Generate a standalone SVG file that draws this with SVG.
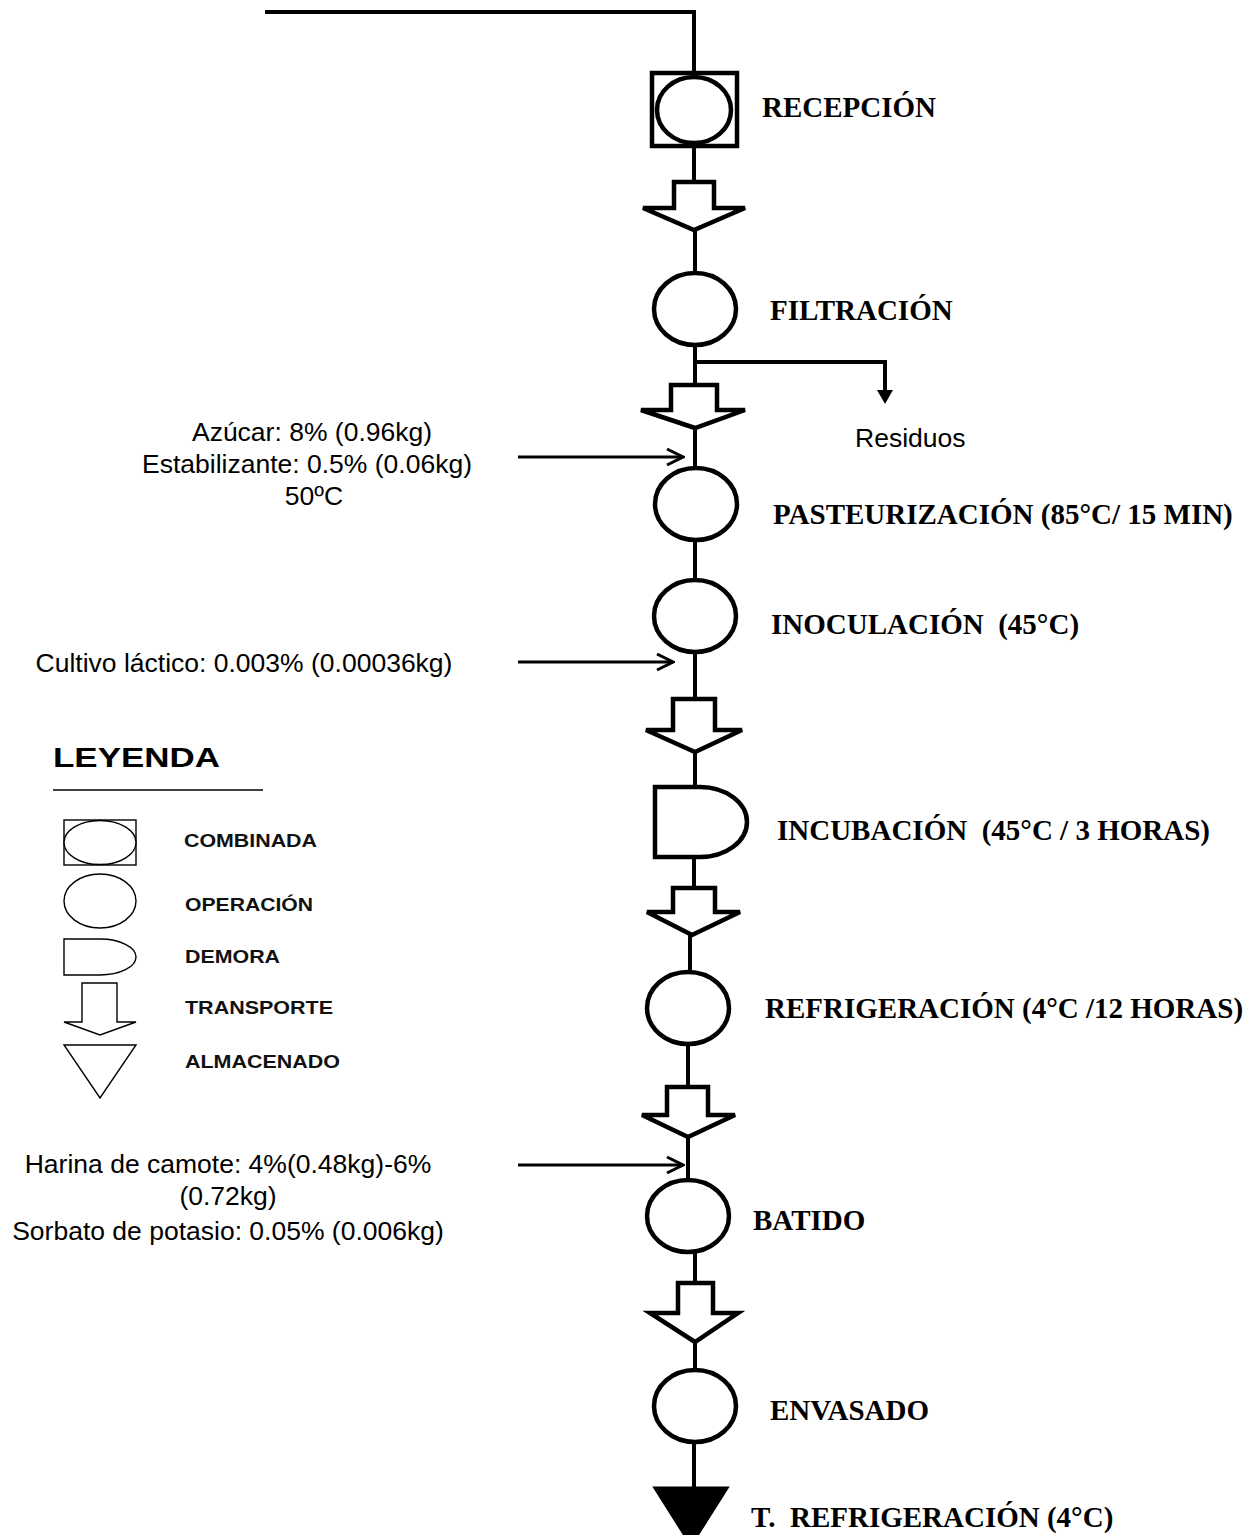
<svg xmlns="http://www.w3.org/2000/svg" width="1256" height="1535" viewBox="0 0 1256 1535">
<defs>
<style>
.sym{fill:#fff;stroke:#000;stroke-width:4.5;stroke-linejoin:miter}
.ln{fill:none;stroke:#000;stroke-width:4}
.lg{fill:#fff;stroke:#000;stroke-width:1.4}
.lbl{font-family:"Liberation Serif","Times New Roman",serif;font-weight:bold;font-size:29px;fill:#000}
.note{font-family:"Liberation Sans",Arial,sans-serif;font-size:26.5px;fill:#000}
.leg{font-family:"Liberation Sans",Arial,sans-serif;font-weight:bold;font-size:18px;fill:#111}
.in{fill:none;stroke:#000;stroke-width:3}
</style>
<marker id="open" viewBox="0 0 20 20" refX="18" refY="10" markerWidth="20" markerHeight="20" markerUnits="userSpaceOnUse" orient="auto">
<path d="M2,2 L18,10 L2,18" fill="none" stroke="#000" stroke-width="3"/>
</marker>
</defs>
<rect width="1256" height="1535" fill="#fff"/>

<g id="connectors">
<polyline class="ln" points="265,12 694,12 694,73"/>
<line class="ln" x1="694" y1="146" x2="694" y2="182"/>
<line class="ln" x1="695" y1="230" x2="695" y2="273"/>
<line class="ln" x1="695" y1="345" x2="695" y2="385"/>
<polyline class="ln" points="695,362 885,362 885,392"/>
<polygon points="877,390 893,390 885,404" fill="#000"/>
<line class="ln" x1="695" y1="428" x2="695" y2="468"/>
<line class="ln" x1="695" y1="540" x2="695" y2="580"/>
<line class="ln" x1="695" y1="652" x2="695" y2="699"/>
<line class="ln" x1="695" y1="752" x2="695" y2="787"/>
<line class="ln" x1="694" y1="857" x2="694" y2="888"/>
<line class="ln" x1="690" y1="935" x2="690" y2="972"/>
<line class="ln" x1="688" y1="1044" x2="688" y2="1087"/>
<line class="ln" x1="688" y1="1137" x2="688" y2="1180"/>
<line class="ln" x1="695" y1="1252" x2="695" y2="1283"/>
<line class="ln" x1="695" y1="1342" x2="695" y2="1370"/>
<line class="ln" x1="694" y1="1442" x2="694" y2="1488"/>
<line class="in" x1="518" y1="457" x2="683" y2="457" marker-end="url(#open)"/>
<line class="in" x1="518" y1="662" x2="673" y2="662" marker-end="url(#open)"/>
<line class="in" x1="518" y1="1165" x2="683" y2="1165" marker-end="url(#open)"/>
</g>

<g id="recepcion">
<rect class="sym" x="652" y="73" width="85" height="73"/>
<ellipse class="sym" cx="694" cy="110" rx="37" ry="33"/>
<text class="lbl" x="762" y="117">RECEPCIÓN</text>
</g>
<g id="transporte1">
<polygon class="sym" points="674,182 714,182 714,208 745,208 694,230 643,208 674,208"/>
</g>
<g id="filtracion">
<ellipse class="sym" cx="695" cy="309" rx="41" ry="36"/>
<text class="lbl" x="770" y="320">FILTRACIÓN</text>
</g>
<g id="residuos">
<text class="note" x="855" y="447">Residuos</text>
</g>
<g id="transporte2">
<polygon class="sym" points="671,385 717,385 717,410 745,410 695,428 641,410 671,410"/>
</g>
<g id="insumo1">
<text class="note" x="312" y="441" text-anchor="middle">Azúcar: 8% (0.96kg)</text>
<text class="note" x="307" y="473" text-anchor="middle">Estabilizante: 0.5% (0.06kg)</text>
<text class="note" x="314" y="505" text-anchor="middle">50ºC</text>
</g>
<g id="pasteurizacion">
<ellipse class="sym" cx="696" cy="504" rx="41" ry="36"/>
<text class="lbl" x="773" y="524">PASTEURIZACIÓN (85°C/ 15 MIN)</text>
</g>
<g id="inoculacion">
<ellipse class="sym" cx="695" cy="616" rx="41" ry="36"/>
<text class="lbl" x="771" y="634" xml:space="preserve">INOCULACIÓN  (45°C)</text>
</g>
<g id="insumo2">
<text class="note" x="244" y="672" text-anchor="middle">Cultivo láctico: 0.003% (0.00036kg)</text>
</g>
<g id="transporte3">
<polygon class="sym" points="673,699 715,699 715,730 742,730 695,752 646,730 673,730"/>
</g>
<g id="incubacion">
<path class="sym" d="M655,787 H700 A47,35 0 0 1 700,857 H655 Z"/>
<text class="lbl" x="777" y="840" xml:space="preserve">INCUBACIÓN  (45°C / 3 HORAS)</text>
</g>
<g id="transporte4">
<polygon class="sym" points="673,888 715,888 715,912 740,912 692,935 647,912 673,912"/>
</g>
<g id="refrigeracion">
<ellipse class="sym" cx="688" cy="1008" rx="41" ry="36"/>
<text class="lbl" x="765" y="1018">REFRIGERACIÓN (4°C /12 HORAS)</text>
</g>
<g id="transporte5">
<polygon class="sym" points="667,1087 708,1087 708,1115 735,1115 688,1137 642,1115 667,1115"/>
</g>
<g id="insumo3">
<text class="note" x="228" y="1173" text-anchor="middle">Harina de camote: 4%(0.48kg)-6%</text>
<text class="note" x="228" y="1205" text-anchor="middle">(0.72kg)</text>
<text class="note" x="228" y="1240" text-anchor="middle">Sorbato de potasio: 0.05% (0.006kg)</text>
</g>
<g id="batido">
<ellipse class="sym" cx="688" cy="1216" rx="41" ry="36"/>
<text class="lbl" x="753" y="1230">BATIDO</text>
</g>
<g id="transporte6">
<polygon class="sym" points="678,1283 713,1283 713,1313 738,1313 695,1342 650,1313 678,1313"/>
</g>
<g id="envasado">
<ellipse class="sym" cx="695" cy="1406" rx="41" ry="36"/>
<text class="lbl" x="770" y="1420">ENVASADO</text>
</g>
<g id="almacenado">
<polygon points="655,1488 727,1488 691,1545" fill="#000" stroke="#000" stroke-width="3"/>
<text class="lbl" x="751" y="1527" xml:space="preserve">T.  REFRIGERACIÓN (4°C)</text>
</g>

<g id="leyenda">
<text x="53" y="767" font-family="'Liberation Sans',Arial,sans-serif" font-weight="bold" font-size="28" textLength="167" lengthAdjust="spacingAndGlyphs">LEYENDA</text>
<line x1="53" y1="790" x2="263" y2="790" stroke="#000" stroke-width="1.5"/>
<rect class="lg" x="64" y="820" width="72" height="45"/>
<ellipse class="lg" cx="100" cy="842.5" rx="36" ry="22"/>
<ellipse class="lg" cx="100" cy="901" rx="36" ry="27"/>
<path class="lg" d="M64,939 H100 A36,18 0 0 1 100,975 H64 Z"/>
<polygon class="lg" points="82,983 117,983 117,1022 136,1022 100,1035 64,1022 82,1022"/>
<polygon class="lg" points="64,1045 136,1045 100,1098"/>
<text class="leg" x="184" y="847" textLength="133" lengthAdjust="spacingAndGlyphs">COMBINADA</text>
<text class="leg" x="185" y="911" textLength="128" lengthAdjust="spacingAndGlyphs">OPERACIÓN</text>
<text class="leg" x="185" y="963" textLength="95" lengthAdjust="spacingAndGlyphs">DEMORA</text>
<text class="leg" x="185" y="1014" textLength="148" lengthAdjust="spacingAndGlyphs">TRANSPORTE</text>
<text class="leg" x="185" y="1068" textLength="155" lengthAdjust="spacingAndGlyphs">ALMACENADO</text>
</g>
</svg>
